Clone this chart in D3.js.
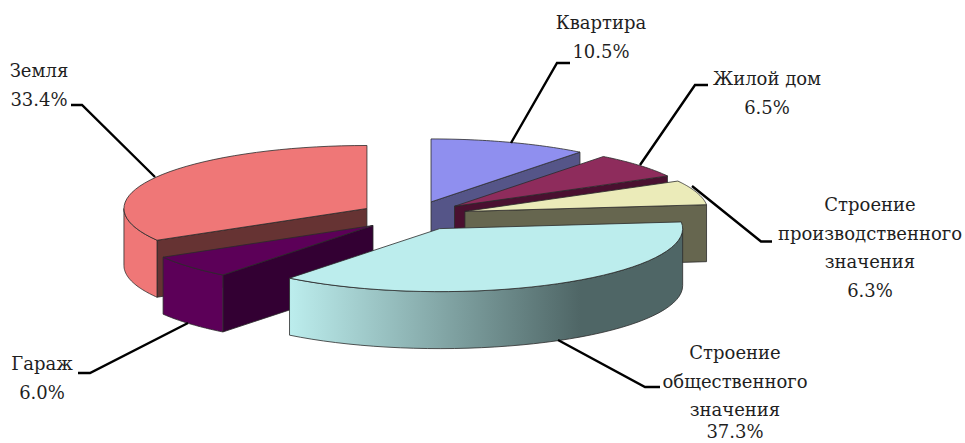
<!DOCTYPE html>
<html><head><meta charset="utf-8">
<script src="https://cdn.jsdelivr.net/npm/d3@7/dist/d3.min.js"></script>
<style>html,body{margin:0;padding:0;background:#fff;overflow:hidden}svg{display:block}
text{font-family:"DejaVu Serif",serif;font-size:18px;fill:#1f1f1f;text-anchor:middle}</style>
</head><body><svg id="c" width="965" height="443"></svg>
<script>
// Data (clockwise from 12 o'clock)
const categories = ["Квартира","Жилой дом","Строение производственного значения","Строение общественного значения","Гараж","Земля"];
const values = [10.5,6.5,6.3,37.3,6.0,33.4];
const valueLabels = ["10.5%","6.5%","6.3%","37.3%","6.0%","33.4%"];
const colors = ["#8F8FEF","#8E2C5C","#EBEBB9","#BCEDED","#5C0058","#EF7777"];
const wallColors = ["#555588","#4A1030","#66664F","#4F6666","#330033","#663333"];
// Layout (kept apart from the data)
const labelLines = [["Квартира"],["Жилой дом"],["Строение","производственного","значения"],["Строение","общественного","значения"],["Гараж"],["Земля"]];
const labelAnchors = [[601,23],[767,79],[870,205],[735,353],[42,364],[39,71]];
const lastRowLift = [0,0,0,7.5,0,0];
const leaders = [
 [[570,63],[557,63],[511,143]],
 [[708,85],[695,85],[640,165]],
 [[772,241.5],[761,241.5],[692,186]],
 [[660,387],[645,387],[558,340]],
 [[78,373],[90,373],[188,323]],
 [[71,105],[82,105],[155,177]]];
const drawOrder = [0,1,2,5,4,3];
const geo = {cx:413.6, cy:215.8, rx:243, ry:63, depth:57, explodeX:53.8, explodeY:14.66, lineH:28.7};

const svg = d3.select("#c");
const defs = svg.append("defs");
const arcs = d3.pie().sort(null).value(d=>d)(values);
const line = d3.line();
const steps = a=>d3.range(0,41).map(i=>a[0]+(a[1]-a[0])*i/40);

arcs.forEach((s,i)=>{
  const g = defs.append("linearGradient").attr("id","w"+i).attr("gradientUnits","userSpaceOnUse")
    .attr("x1",290).attr("x2",580).attr("y1",0).attr("y2",0);
  g.append("stop").attr("offset",0).attr("stop-color",colors[i]);
  g.append("stop").attr("offset",1).attr("stop-color",wallColors[i]);
});

const stroke = {stroke:"#2b2b2b","stroke-width":0.8,"stroke-linejoin":"round"};
function put(d,fill){const p=svg.append("path").attr("d",d).attr("fill",fill);
  Object.entries(stroke).forEach(([k,v])=>p.attr(k,v));}

drawOrder.forEach(i=>{
  const s = arcs[i], a=s.startAngle, b=s.endAngle, mid=(a+b)/2;
  const ox = geo.cx+geo.explodeX*Math.sin(mid), oy = geo.cy-geo.explodeY*Math.cos(mid);
  const P=(t,dz=0)=>[ox+geo.rx*Math.sin(t), oy-geo.ry*Math.cos(t)+dz];
  const wall=t=>line([[ox,oy],P(t),P(t,geo.depth),[ox,oy+geo.depth]])+"Z";
  if(Math.sin(a)<-1e-6) put(wall(a),wallColors[i]);
  if(Math.sin(b)>1e-6) put(wall(b),wallColors[i]);
  const lo=Math.max(a,Math.PI/2), hi=Math.min(b,3*Math.PI/2);
  if(hi>lo){
    const top=steps([lo,hi]).map(t=>P(t));
    const bot=steps([hi,lo]).map(t=>P(t,geo.depth));
    put(line(top.concat(bot))+"Z",`url(#w${i})`);
  }
  put(line([[ox,oy]].concat(steps([a,b]).map(t=>P(t))))+"Z",colors[i]);
});

// leaders
leaders.forEach(l=>svg.append("path").attr("d",line(l)).attr("fill","none").attr("stroke","#000").attr("stroke-width",2.4));
// labels
categories.forEach((c,i)=>{
  const [x,y]=labelAnchors[i];
  const rows=labelLines[i].concat(valueLabels[i]);
  rows.forEach((r,j)=>svg.append("text").attr("x",x)
    .attr("y",y+j*geo.lineH-(j===rows.length-1?lastRowLift[i]:0)).attr("dy","0.33em").text(r));
});
</script></body></html>
